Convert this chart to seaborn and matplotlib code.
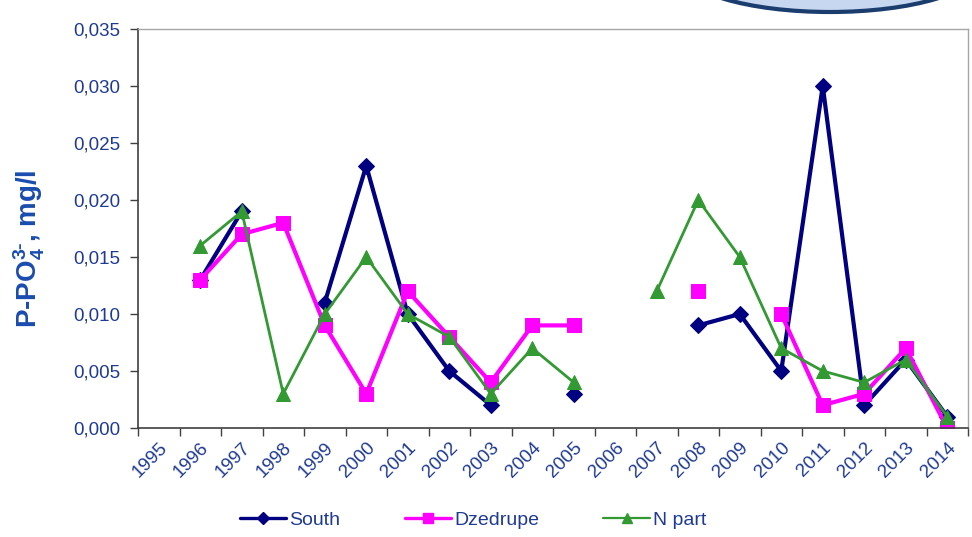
import numpy as np
import pandas as pd
import matplotlib
matplotlib.use("Agg")
import matplotlib.pyplot as plt
from matplotlib.lines import Line2D
from matplotlib.patches import Ellipse
from matplotlib.ticker import FuncFormatter, FixedLocator
import seaborn as sns

nan = np.nan
years = ["1995", "1996", "1997", "1998", "1999", "2000", "2001", "2002", "2003", "2004",
         "2005", "2006", "2007", "2008", "2009", "2010", "2011", "2012", "2013", "2014"]
south = [nan, 0.013, 0.019, nan, 0.011, 0.023, 0.010, 0.005, 0.002, nan,
         0.003, nan, nan, 0.009, 0.010, 0.005, 0.030, 0.002, 0.006, 0.001]
dzedrupe = [nan, 0.013, 0.017, 0.018, 0.009, 0.003, 0.012, 0.008, 0.004, 0.009,
            0.009, nan, nan, 0.012, nan, 0.010, 0.002, 0.003, 0.007, 0.000]
n_part = [nan, 0.016, 0.019, 0.003, 0.010, 0.015, 0.010, 0.008, 0.003, 0.007,
          0.004, nan, 0.012, 0.020, 0.015, 0.007, 0.005, 0.004, 0.006, 0.001]

# name, values, colour, marker, line width, marker size (plot), marker size (legend)
series = [
    ("South", south, "#000080", "D", 3.0, 8.5, 6.0),
    ("Dzedrupe", dzedrupe, "#ff00ff", "s", 3.0, 10.0, 7.5),
    ("N part", n_part, "#339933", "^", 2.0, 10.5, 7.5),
]

text_blue = "#1f3a93"

sns.set_theme(style="white")
plt.rcParams["font.family"] = ["Liberation Sans", "DejaVu Sans"]
plt.rcParams["mathtext.fontset"] = "custom"
plt.rcParams["mathtext.rm"] = "Liberation Sans:bold"
plt.rcParams["mathtext.default"] = "rm"

fig = plt.figure(figsize=(9.72, 5.37), dpi=100)
ax = fig.add_axes([138 / 972, 1 - 428 / 537, (968 - 138) / 972, (428 - 29) / 537])

pos = np.arange(len(years))
handles = []
for name, vals, color, marker, lw, ms, lms in series:
    df = pd.DataFrame({"pos": pos, "val": vals})
    # gaps in the record split the line into separate runs
    df["seg"] = df["val"].isna().cumsum()
    df = df.dropna()
    sns.lineplot(data=df, x="pos", y="val", units="seg", estimator=None, ax=ax,
                 color=color, lw=lw, marker=marker, markersize=ms,
                 markeredgecolor=color, markerfacecolor=color, legend=False)
    handles.append(Line2D([], [], color=color, lw=lw * 0.8, marker=marker,
                          markersize=lms, markeredgecolor=color,
                          markerfacecolor=color, label=name))

ax.set_xlim(-0.5, len(years) - 0.5)
ax.set_ylim(0, 0.035)
ax.set_xlabel("")
ax.set_ylabel(r"P-PO$_4^{3\text{-}}$, mg/l", color="#1a4cb0", fontsize=20,
              fontweight="bold")
ax.yaxis.set_label_coords(-0.11, 0.45)

ax.yaxis.set_major_locator(FixedLocator(np.arange(0, 0.0351, 0.005)))
ax.yaxis.set_major_formatter(FuncFormatter(lambda v, p: f"{v:.3f}".replace(".", ",")))
ax.tick_params(axis="y", which="major", left=True, length=6, width=1, color="#404040",
               labelsize=13.5, labelcolor=text_blue, pad=7)

# tick marks on category boundaries, labels on category centres
ax.xaxis.set_major_locator(FixedLocator(np.arange(-0.5, len(years), 1.0)))
ax.xaxis.set_major_formatter(FuncFormatter(lambda v, p: ""))
ax.set_xticks(pos, minor=True)
ax.set_xticklabels(years, minor=True)
ax.tick_params(axis="x", which="major", bottom=True, length=6, width=1, color="#404040")
ax.tick_params(axis="x", which="minor", bottom=True, length=0, labelsize=13.5,
               labelcolor=text_blue, pad=8)
for lab in ax.get_xticklabels(minor=True):
    lab.set_rotation(45)
    lab.set_ha("right")
    lab.set_va("top")
    lab.set_rotation_mode("anchor")

for side in ["left", "bottom"]:
    ax.spines[side].set_color("#404040")
    ax.spines[side].set_linewidth(1.2)
for side in ["top", "right"]:
    ax.spines[side].set_color("#a6a6a6")
    ax.spines[side].set_linewidth(1.0)

fig.legend(handles=handles, loc="center", bbox_to_anchor=(473 / 972, 1 - 520 / 537),
           ncol=3, frameon=False, fontsize=14, handlelength=2.4, handletextpad=0.15,
           columnspacing=3.3, labelcolor=text_blue)

# rounded badge peeking in at the top edge
badge = Ellipse((830 / 972, 1 + 33 / 537), 300 / 972, 90 / 537, transform=fig.transFigure,
                facecolor="#c6d7ef", edgecolor="#1b3d6e", lw=3, clip_on=False, zorder=5)
fig.add_artist(badge)

fig.savefig("out.png", dpi=100)
